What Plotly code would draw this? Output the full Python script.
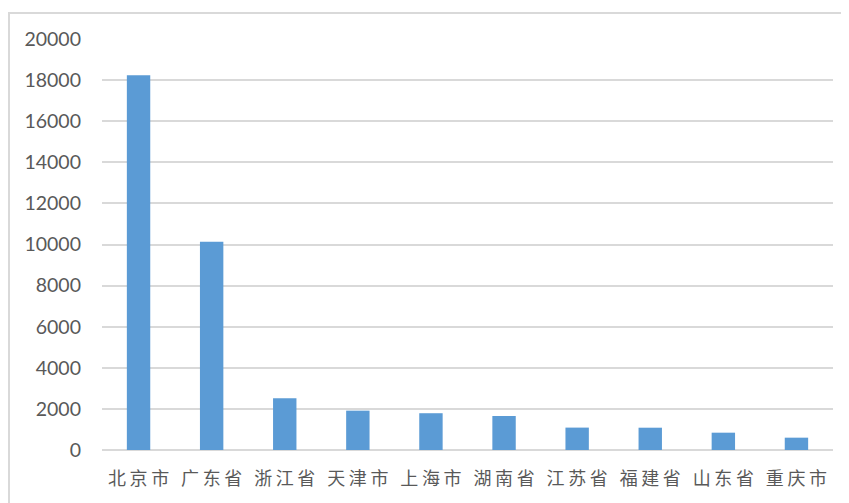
import plotly.graph_objects as go

categories = ["北京市", "广东省", "浙江省", "天津市", "上海市", "湖南省", "江苏省", "福建省", "山东省", "重庆市"]
values = [18230, 10130, 2520, 1915, 1790, 1656, 1090, 1085, 843, 600]
y_ticks = [0, 2000, 4000, 6000, 8000, 10000, 12000, 14000, 16000, 18000, 20000]

# page body adds an 8px offset
W, H = 841, 495
L, R, T, B = 94, 16, 31, 53

fig = go.Figure(go.Bar(
    x=categories, y=values,
    marker=dict(color="#5b9bd5", line=dict(width=0)),
    width=0.32,
))

pw = W - L - R
ph = H - T - B
fig.add_shape(type="rect", xref="paper", yref="paper",
              x0=(1 - L) / pw, x1=(W + 10 - L) / pw,
              y0=-(B + 10) / ph, y1=(ph + T - 5) / ph,
              line=dict(color="#d9d9d9", width=2), fillcolor="rgba(0,0,0,0)", layer="below")

spaced = ["\u2009".join(c) for c in categories]

fig.update_layout(
    width=W, height=H,
    margin=dict(l=L, r=R, t=T, b=B),
    paper_bgcolor="white", plot_bgcolor="white",
    showlegend=False,
    xaxis=dict(
        tickmode="array", tickvals=categories, ticktext=spaced,
        tickfont=dict(family="Noto Sans CJK SC", size=18, color="#595959"),
        showgrid=False, zeroline=False, showline=False, ticks="",
        ticklabelstandoff=16,
    ),
    yaxis=dict(
        range=[0, 20000], tickvals=y_ticks,
        ticktext=[str(v) for v in y_ticks],
        tickfont=dict(family="Lato", size=19.5, color="#595959"),
        showgrid=True, gridcolor="#d9d9d9", gridwidth=1.5,
        zeroline=True, zerolinecolor="#d9d9d9", zerolinewidth=1.5,
        showline=False, ticks="", ticklabelstandoff=20,
    ),
)

fig.write_html("out.html")
